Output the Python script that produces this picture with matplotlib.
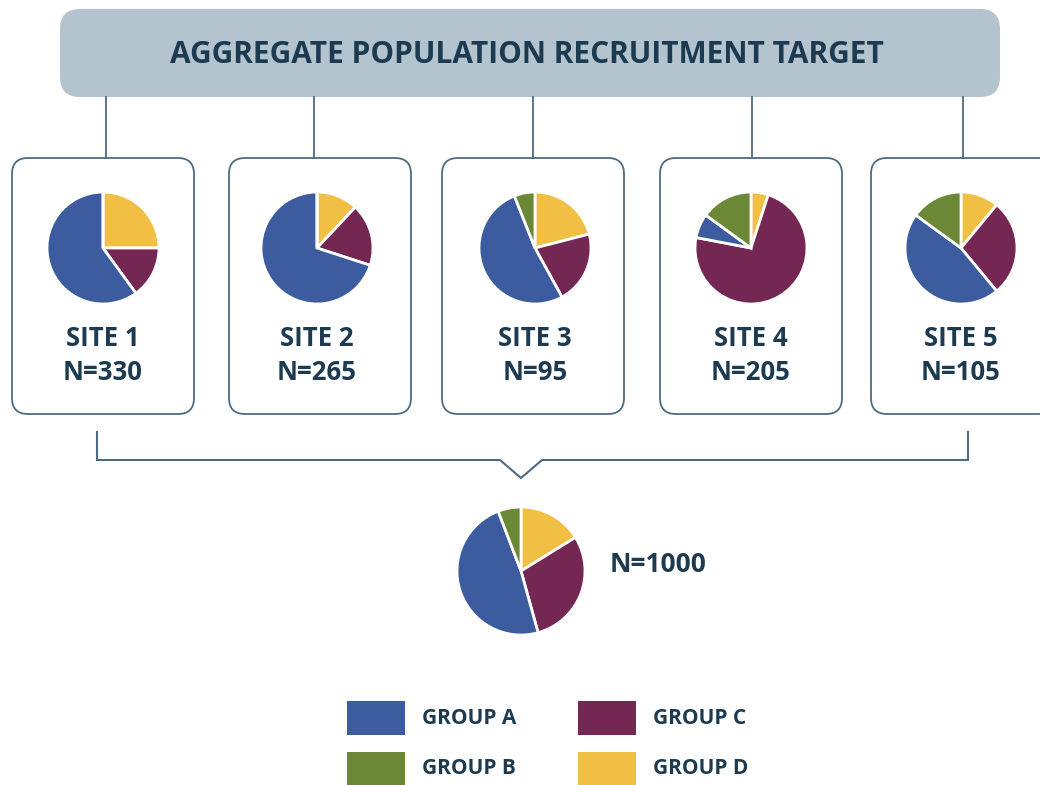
import matplotlib
matplotlib.use("Agg")
import matplotlib.pyplot as plt
from matplotlib.patches import FancyBboxPatch, Rectangle

plt.rcParams['font.family'] = ['Open Sans', 'DejaVu Sans']

# data
groups = ["GROUP A", "GROUP B", "GROUP C", "GROUP D"]
colors = {"GROUP A": "#3d5b9f", "GROUP B": "#6a8836", "GROUP C": "#732752", "GROUP D": "#f1bf44"}
site_names = ["SITE 1", "SITE 2", "SITE 3", "SITE 4", "SITE 5"]
site_n = [330, 265, 95, 205, 105]
# shares per site, order A, B, C, D (percent)
share_a = [60, 70, 52, 7, 46]
share_b = [0, 0, 6, 15, 15]
share_c = [15, 18, 21, 73, 28]
share_d = [25, 12, 21, 5, 11]
total_n = 1000
total_share = [48.5, 5.8, 29.5, 16.2]
title = "AGGREGATE POPULATION RECRUITMENT TARGET"

TEXT = "#1c3a50"
LINE = "#4f6b80"
W, H = 1040, 785

fig = plt.figure(figsize=(W / 100, H / 100), dpi=100)
ax = fig.add_axes([0, 0, 1, 1])


def Y(y):
    # pixel row from the top -> data y
    return H - y


def pie_at(vals, cx, cy, r):
    # clockwise from the top: D, C, A, B
    order = [3, 2, 0, 1]
    v = [vals[i] for i in order]
    c = [colors[groups[i]] for i in order]
    ax.pie(v, colors=c, startangle=90, counterclock=False, center=(cx, Y(cy)),
           radius=r, frame=True,
           wedgeprops=dict(edgecolor="white", linewidth=2))


# title box
ax.add_patch(FancyBboxPatch((60, Y(97)), 940, 88,
                            boxstyle="round,pad=0,rounding_size=20",
                            fc="#b3c4cf", ec="none"))
ax.text(527, Y(55), title, ha="center", va="center", fontsize=21.5,
        fontweight="bold", color=TEXT)

box_left = [12, 229, 442, 660, 871]
conn_x = [106, 314, 533, 752, 963]
pie_x = [103, 317, 535, 751, 961]

for i in range(5):
    ax.plot([conn_x[i], conn_x[i]], [Y(97), Y(158)], color=LINE, lw=1.3)
    ax.add_patch(FancyBboxPatch((box_left[i], Y(414)), 182, 256,
                                boxstyle="round,pad=0,rounding_size=16",
                                fc="white", ec=LINE, lw=1.3))
    vals = [share_a[i], share_b[i], share_c[i], share_d[i]]
    pie_at(vals, pie_x[i], 248, 56)
    ax.text(pie_x[i], Y(338), site_names[i], ha="center", va="center",
            fontsize=18.5, fontweight="bold", color=TEXT)
    ax.text(pie_x[i], Y(373), f"N={site_n[i]}", ha="center", va="center",
            fontsize=18.5, fontweight="bold", color=TEXT)

# bracket with the notch
bx = [97, 97, 500, 521, 542, 968, 968]
by = [432, 460, 460, 478, 460, 460, 432]
ax.plot(bx, [Y(v) for v in by], color=LINE, lw=1.5, solid_joinstyle="miter")

# total pie
pie_at(total_share, 521, 571, 64)
ax.text(610, Y(564), f"N={total_n}", ha="left", va="center", fontsize=19,
        fontweight="bold", color=TEXT)

# legend
leg_x = [347, 347, 578, 578]
leg_y = [701, 752, 701, 752]
leg_groups = ["GROUP A", "GROUP B", "GROUP C", "GROUP D"]
for g, lx, ly in zip(leg_groups, leg_x, leg_y):
    ax.add_patch(Rectangle((lx, Y(ly + 34)), 58, 34, fc=colors[g], ec="none"))
    ax.text(lx + 75, Y(ly + 17), g, ha="left", va="center", fontsize=15,
            fontweight="bold", color=TEXT)

ax.set_xlim(0, W)
ax.set_ylim(0, H)
ax.set_aspect("auto")
ax.axis("off")

fig.savefig("out.png", dpi=100, facecolor="white")
